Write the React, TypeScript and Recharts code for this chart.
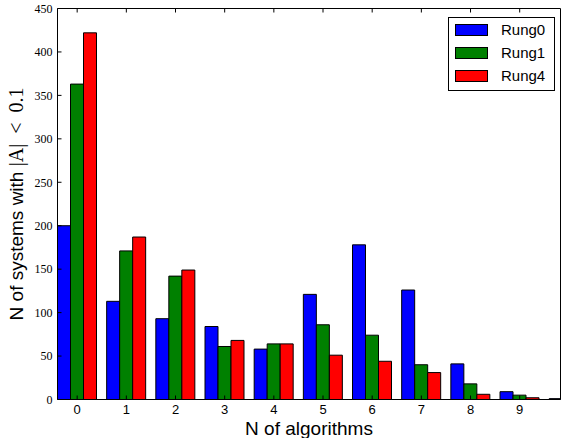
import { BarChart, Bar, XAxis, YAxis, Legend } from "recharts"

const bins = [0, 1, 2, 3, 4, 5, 6, 7, 8, 9, 10]
const rung0 = [200, 113, 93, 84, 58, 121, 178, 126, 41, 9, 1]
const rung1 = [363, 171, 142, 61, 64, 86, 74, 40, 18, 5, 0]
const rung4 = [422, 187, 149, 68, 64, 51, 44, 31, 6, 2, 0]

const seriesNames = ["Rung0", "Rung1", "Rung4"]
const seriesColors = ["#0000ff", "#008000", "#ff0000"]

const xTicks = [0, 1, 2, 3, 4, 5, 6, 7, 8, 9]
const yTicks = [0, 50, 100, 150, 200, 250, 300, 350, 400, 450]

const chartData = bins.map((n, i) => ({
  n,
  Rung0: rung0[i],
  Rung1: rung1[i],
  Rung4: rung4[i]
}))

const sans = "'Liberation Sans', Arial, sans-serif"
const serif = "'Liberation Serif', 'Times New Roman', serif"

function NoTick() {
  return <g />
}

function XTitle() {
  return (
    <text x={309} y={435} textAnchor="middle" fontFamily={sans} fontSize={19} fill="#000">
      N of algorithms
    </text>
  )
}

function YTitle() {
  return (
    <text
      transform="translate(23, 204) rotate(-90)"
      textAnchor="middle"
      fontFamily={sans}
      fontSize={19}
      fill="#000"
    >
      N of systems with{" "}
      <tspan fontFamily={serif} fontSize={20}>
        |A|{"\u2002"}&lt;{"\u2002"}0.1
      </tspan>
    </text>
  )
}

function LegendBox() {
  return (
    <div
      style={{
        width: 107,
        height: 74,
        boxSizing: "border-box",
        border: "1px solid #000",
        background: "#fff",
        position: "relative",
        fontFamily: sans,
        fontSize: 15
      }}
    >
      {seriesNames.map((name, i) => (
        <div key={name}>
          <div
            style={{
              position: "absolute",
              left: 6,
              top: 6 + i * 23,
              width: 33,
              height: 12,
              boxSizing: "border-box",
              border: "1px solid #000",
              background: seriesColors[i]
            }}
          />
          <div
            style={{
              position: "absolute",
              left: 52,
              top: 2 + i * 23,
              lineHeight: "20px",
              color: "#000"
            }}
          >
            {name}
          </div>
        </div>
      ))}
    </div>
  )
}

export default function App() {
  return (
    <div style={{ position: "absolute", left: 0, top: 0, background: "#fff" }}>
      <BarChart
        width={561}
        height={438}
        data={chartData}
        margin={{ top: 0, right: 0, bottom: 0, left: 0.5 }}
        barGap={0}
        barCategoryGap="10%"
      >
        <XAxis
          xAxisId="bottom"
          dataKey="n"
          type="number"
          domain={[-0.4, 9.83]}
          allowDataOverflow
          ticks={xTicks}
          height={38.5}
          stroke="#000"
          tickSize={-4}
          tickMargin={9}
          tick={{ fill: "#000", fontSize: 13, fontFamily: sans }}
          label={<XTitle />}
        />
        <XAxis
          xAxisId="top"
          orientation="top"
          dataKey="n"
          type="number"
          domain={[-0.4, 9.83]}
          allowDataOverflow
          ticks={xTicks}
          height={8.5}
          stroke="#000"
          tickSize={-4}
          tick={<NoTick />}
        />
        <YAxis
          yAxisId="left"
          domain={[0, 450]}
          ticks={yTicks}
          width={57}
          stroke="#000"
          tickSize={-4}
          tickMargin={9}
          tick={{ fill: "#000", fontSize: 12, fontFamily: serif }}
          label={<YTitle />}
        />
        <YAxis
          yAxisId="right"
          orientation="right"
          domain={[0, 450]}
          ticks={yTicks}
          width={0.5}
          stroke="#000"
          tickSize={-4}
          tick={<NoTick />}
        />
        <Legend
          layout="horizontal"
          align="center"
          verticalAlign="middle"
          wrapperStyle={{ left: 448, top: 17, width: 107, height: 74 }}
          content={() => <LegendBox />}
        />
        {seriesNames.map((name, i) => (
          <Bar
            key={name}
            dataKey={name}
            xAxisId="bottom"
            yAxisId="left"
            fill={seriesColors[i]}
            stroke="#000"
            strokeWidth={1}
            isAnimationActive={false}
          />
        ))}
      </BarChart>
    </div>
  )
}
